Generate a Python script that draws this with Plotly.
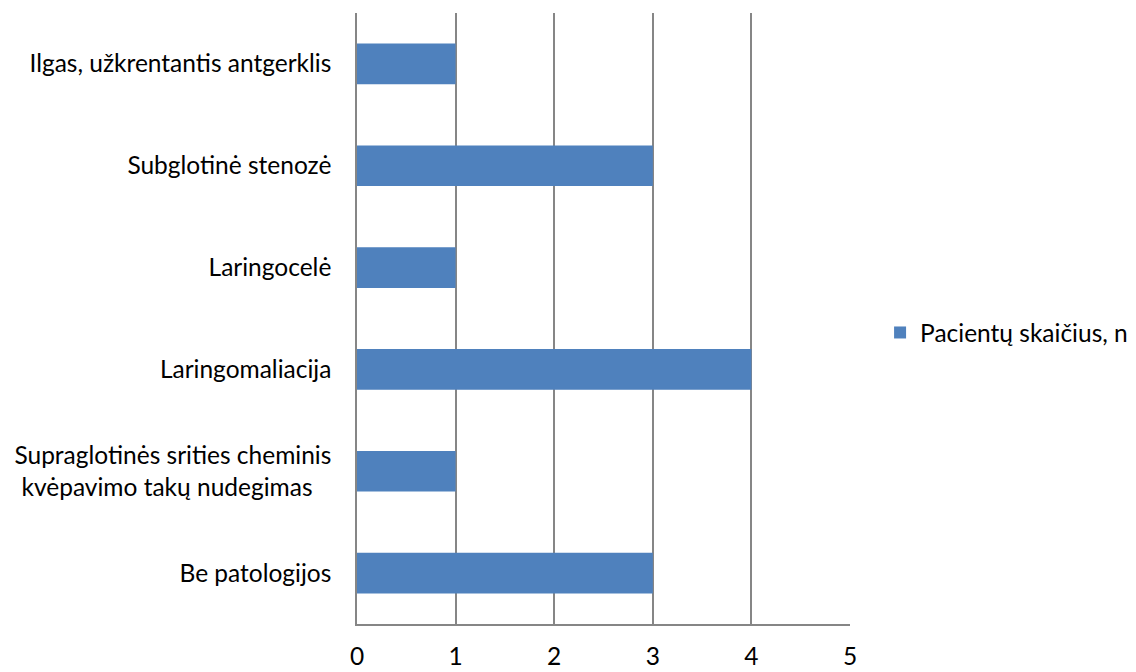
import plotly.graph_objects as go

# Diagnoses (bottom to top) and patient counts
categories = [
    "Be patologijos",
    "Supraglotinės srities cheminis<br>kvėpavimo takų nudegimas\u00a0\u00a0\u00a0",
    "Laringomaliacija",
    "Laringocelė",
    "Subglotinė stenozė",
    "Ilgas, užkrentantis antgerklis",
]
patients = [3, 1, 4, 1, 3, 1]
series_name = "Pacientų skaičius, n"
x_ticks = [0, 1, 2, 3, 4, 5]

FONT = "Lato, Carlito, Calibri, sans-serif"
FSIZE = 24.5

fig = go.Figure(
    go.Bar(
        y=categories,
        x=patients,
        orientation="h",
        name=series_name,
        marker=dict(color="#4F81BD", line=dict(width=0)),
        showlegend=True,
    )
)

fig.update_layout(
    width=1136,
    height=672,
    margin=dict(l=357, r=286, t=13, b=48, autoexpand=False),
    paper_bgcolor="white",
    plot_bgcolor="white",
    bargap=0.6,
    font=dict(family=FONT, size=FSIZE, color="#000000"),
    showlegend=True,
    legend=dict(
        x=1.061,
        y=0.477,
        xanchor="left",
        yanchor="middle",
        font=dict(family=FONT, size=FSIZE, color="#000000"),
        itemwidth=30,
        bgcolor="rgba(0,0,0,0)",
    ),
    xaxis=dict(
        range=[0, 5],
        tickvals=x_ticks,
        showgrid=True,
        gridcolor="#868686",
        gridwidth=1.5,
        zeroline=False,
        showline=True,
        linecolor="#868686",
        linewidth=1.5,
        ticks="",
        ticklabelstandoff=10,
        automargin=False,
        tickfont=dict(family=FONT, size=FSIZE),
    ),
    yaxis=dict(
        categoryorder="array",
        categoryarray=categories,
        showgrid=False,
        zeroline=False,
        showline=True,
        linecolor="#868686",
        linewidth=1.5,
        ticks="",
        ticklabelstandoff=19,
        automargin=False,
        tickfont=dict(family=FONT, size=FSIZE),
    ),
)

fig.write_html("out.html")
